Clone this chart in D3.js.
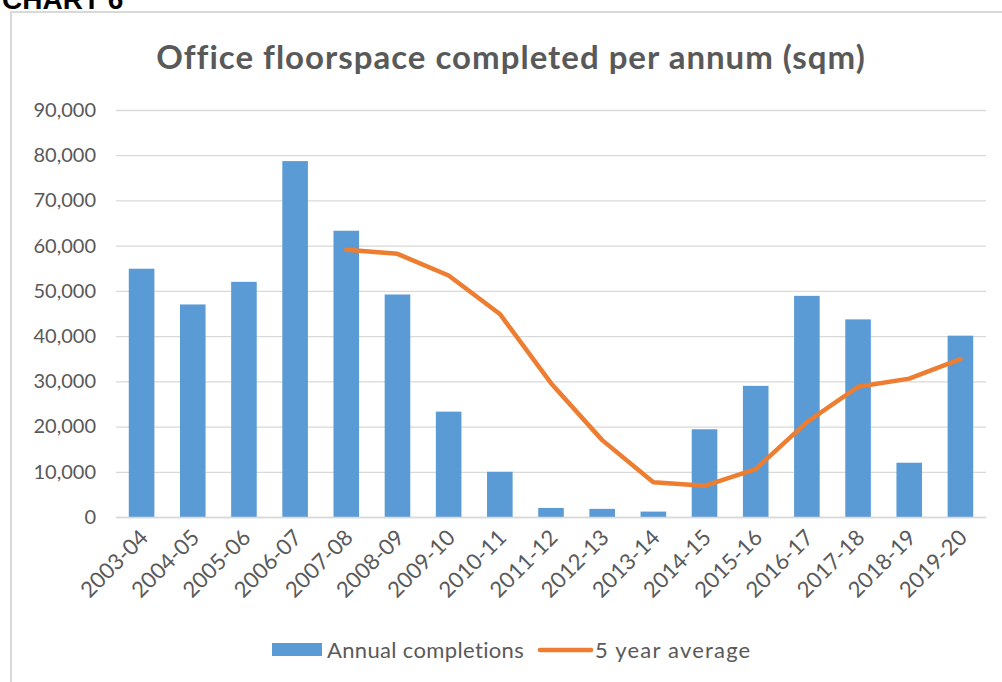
<!DOCTYPE html>
<html><head><meta charset="utf-8">
<script src="https://cdn.jsdelivr.net/npm/d3@7"></script>
<style>body{margin:0;background:#fff;}svg{display:block;}</style>
</head><body>
<script>
const categories = ["2003-04","2004-05","2005-06","2006-07","2007-08","2008-09","2009-10","2010-11","2011-12","2012-13","2013-14","2014-15","2015-16","2016-17","2017-18","2018-19","2019-20"];
const annualCompletions = [54900,47000,52000,78700,63300,49200,23300,10000,2000,1800,1200,19400,29000,48900,43700,12000,40100];
const fiveYearAverage = [null,null,null,null,59100,58200,53400,44900,29600,17000,7700,6900,10600,21000,28800,30600,34900];
const yTicks = [0,10000,20000,30000,40000,50000,60000,70000,80000,90000];
const title = "Office floorspace completed per annum (sqm)";
const header = "CHART 6";
const legendLabels = ["Annual completions","5 year average"];

const W = 1002, H = 682;
const svg = d3.select("body").append("svg").attr("width", W).attr("height", H);
const font = "Lato, 'Open Sans', sans-serif";
const grey = "#595959";

svg.append("text").attr("x", 2).attr("y", 9).text(header)
  .attr("font-family", "'Liberation Sans', Arial, sans-serif").attr("font-weight", "bold")
  .attr("font-size", 28).attr("fill", "#000");

svg.append("rect").attr("x", 11).attr("y", 12).attr("width", 1000).attr("height", 700)
  .attr("fill", "none").attr("stroke", "#d9d9d9").attr("stroke-width", 2);

const x = d3.scaleBand().domain(categories).range([116, 986]).paddingInner(0.5).paddingOuter(0.25);
const y = d3.scaleLinear().domain([0, 90000]).range([517, 110]);

svg.append("text").attr("x", 511).attr("y", 69).attr("text-anchor", "middle")
  .attr("font-family", font).attr("font-weight", "bold").attr("font-size", 33)
  .attr("letter-spacing", 1).attr("fill", grey).text(title);

// gridlines
const yAxis = d3.axisLeft(y).tickValues(yTicks).tickSize(-(986 - 116)).tickFormat(d3.format(","));
const gy = svg.append("g").attr("transform", "translate(116,0)").call(yAxis);
gy.select(".domain").remove();
gy.selectAll(".tick line").attr("stroke", "#d9d9d9").attr("stroke-width", 1.3);
gy.selectAll(".tick text").attr("x", -20).attr("font-family", font).attr("font-size", 20)
  .attr("fill", grey);

// bars
svg.append("g").selectAll("rect").data(annualCompletions).join("rect")
  .attr("x", (d, i) => x(categories[i]))
  .attr("width", x.bandwidth())
  .attr("y", d => y(d))
  .attr("height", d => y(0) - y(d))
  .attr("fill", "#5b9bd5");

// x axis
const xAxis = d3.axisBottom(x).tickSize(0);
const gx = svg.append("g").attr("transform", "translate(0,517)").call(xAxis);
gx.select(".domain").attr("stroke", "#d9d9d9").attr("stroke-width", 1.3);
gx.selectAll(".tick text")
  .attr("font-family", font).attr("font-size", 22).attr("fill", grey)
  .attr("text-anchor", "end").attr("dy", 0).attr("y", 0)
  .attr("transform", "translate(8,22) rotate(-45)");

// line
svg.append("path").datum(fiveYearAverage.map((v, i) => ({c: categories[i], v})))
  .attr("d", d3.line().defined(d => d.v != null).x(d => x(d.c) + x.bandwidth() / 2).y(d => y(d.v)))
  .attr("fill", "none").attr("stroke", "#ed7d31").attr("stroke-width", 4.5)
  .attr("stroke-linejoin", "round").attr("stroke-linecap", "round");

// legend
const lg = svg.append("g");
lg.append("rect").attr("x", 272).attr("y", 643).attr("width", 50).attr("height", 13).attr("fill", "#5b9bd5");
lg.append("text").attr("x", 327).attr("y", 658).text(legendLabels[0])
  .attr("font-family", font).attr("font-size", 22).attr("letter-spacing", 0.35).attr("fill", grey);
lg.append("line").attr("x1", 540).attr("x2", 591).attr("y1", 650).attr("y2", 650)
  .attr("stroke", "#ed7d31").attr("stroke-width", 4.5).attr("stroke-linecap", "round");
lg.append("text").attr("x", 595).attr("y", 658).text(legendLabels[1])
  .attr("font-family", font).attr("font-size", 22).attr("letter-spacing", 1.2)
  .attr("fill", grey);
</script>
</body></html>
